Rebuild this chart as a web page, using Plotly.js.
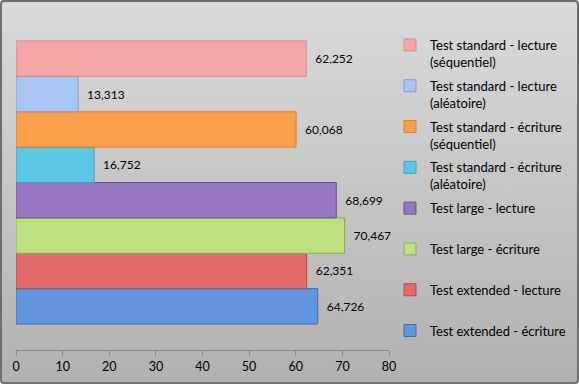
<!DOCTYPE html>
<html>
<head>
<meta charset="utf-8">
<script src="https://cdn.plot.ly/plotly-3.0.1.min.js"></script>
<style>
html,body{margin:0;padding:0;background:#fff;}
#chart{width:579px;height:384px;}
</style>
</head>
<body>
<div id="chart"></div>
<script>
// Series (bottom to top as drawn)
const seriesNames = [
  "Test extended - écriture",
  "Test extended - lecture",
  "Test large - écriture",
  "Test large - lecture",
  "Test standard - écriture<br>(aléatoire)",
  "Test standard - écriture<br>(séquentiel)",
  "Test standard - lecture<br>(aléatoire)",
  "Test standard - lecture<br>(séquentiel)"
];
const seriesValues = [64.726, 62.351, 70.467, 68.699, 16.752, 60.068, 13.313, 62.252];
const category = [""];
const xTickValues = [0, 10, 20, 30, 40, 50, 60, 70, 80];

const fillColors = ["#6396dc", "#e56b6b", "#bfe07f", "#9677c3", "#5cc7e2", "#fa9f4b", "#a9c6f2", "#f4a6a8"];
const lineColors = ["#3c6cb2", "#b84a4a", "#8caf4f", "#6c5196", "#3ea3bf", "#d78232", "#7e9ecf", "#d48d8f"];

const W = 579, H = 384, ml = 16, mr = 190, mt = 15, mb = 34;
const pw = W - ml - mr, ph = H - mt - mb;
const FONT = "Lato, 'Open Sans', sans-serif";

const traces = seriesNames.map((name, i) => ({
  type: "bar",
  orientation: "h",
  name: name.includes("<br>") ? name : name + "<br> ",
  legendgroup: "g" + i,
  legendrank: seriesNames.length - i,
  x: [seriesValues[i]],
  y: category,
  marker: {color: fillColors[i], line: {color: lineColors[i], width: 1}},
  texttemplate: "\u2002%{x:.3f}",
  textposition: "outside",
  textfont: {family: FONT, size: 12, color: "#000"},
  cliponaxis: false,
  hoverinfo: "x+name"
}));

const svg = '<svg xmlns="http://www.w3.org/2000/svg" width="579" height="384">' +
  '<defs><linearGradient id="g" x1="0" y1="0" x2="0" y2="1">' +
  '<stop offset="0" stop-color="#dadada"/><stop offset="1" stop-color="#b1b1b1"/>' +
  '</linearGradient></defs>' +
  '<rect x="1" y="1" width="577" height="382" rx="3" ry="3" fill="url(#g)" stroke="#6e6e6e" stroke-width="2"/>' +
  '</svg>';

const layout = {
  width: W, height: H,
  margin: {l: ml, r: mr, t: mt, b: mb, pad: 0, autoexpand: false},
  paper_bgcolor: "rgba(0,0,0,0)",
  plot_bgcolor: "rgba(0,0,0,0)",
  separators: ", ",
  font: {family: FONT, size: 12, color: "#000"},
  barmode: "group",
  bargap: 0.155,
  bargroupgap: 0,
  showlegend: true,
  legend: {
    xref: "container", yref: "container",
    x: 390 / W, xanchor: "left",
    y: 1 - 30 / H, yanchor: "top",
    maxheight: 370,
    bgcolor: "rgba(0,0,0,0)",
    traceorder: "grouped",
    tracegroupgap: 4,
    valign: "top",
    itemwidth: 30,
    font: {family: FONT, size: 13, color: "#000"}
  },
  xaxis: {
    range: [0, 80],
    tickvals: xTickValues,
    ticktext: xTickValues.map(String),
    showgrid: false,
    zeroline: false,
    showline: true,
    linecolor: "#8a8a8a",
    linewidth: 1,
    ticks: "outside",
    ticklen: 5,
    tickcolor: "#8a8a8a",
    tickfont: {family: FONT, size: 12.5, color: "#000"},
    fixedrange: true
  },
  yaxis: {
    showticklabels: false,
    showgrid: false,
    zeroline: false,
    showline: false,
    ticks: "",
    fixedrange: true
  },
  images: [{
    source: "data:image/svg+xml;charset=utf-8," + encodeURIComponent(svg),
    xref: "paper", yref: "paper",
    x: -ml / pw, y: 1 + mt / ph,
    sizex: W / pw, sizey: H / ph,
    xanchor: "left", yanchor: "top",
    sizing: "stretch",
    layer: "below"
  }]
};

Plotly.newPlot("chart", traces, layout, {displayModeBar: false, staticPlot: true});
</script>
</body>
</html>
